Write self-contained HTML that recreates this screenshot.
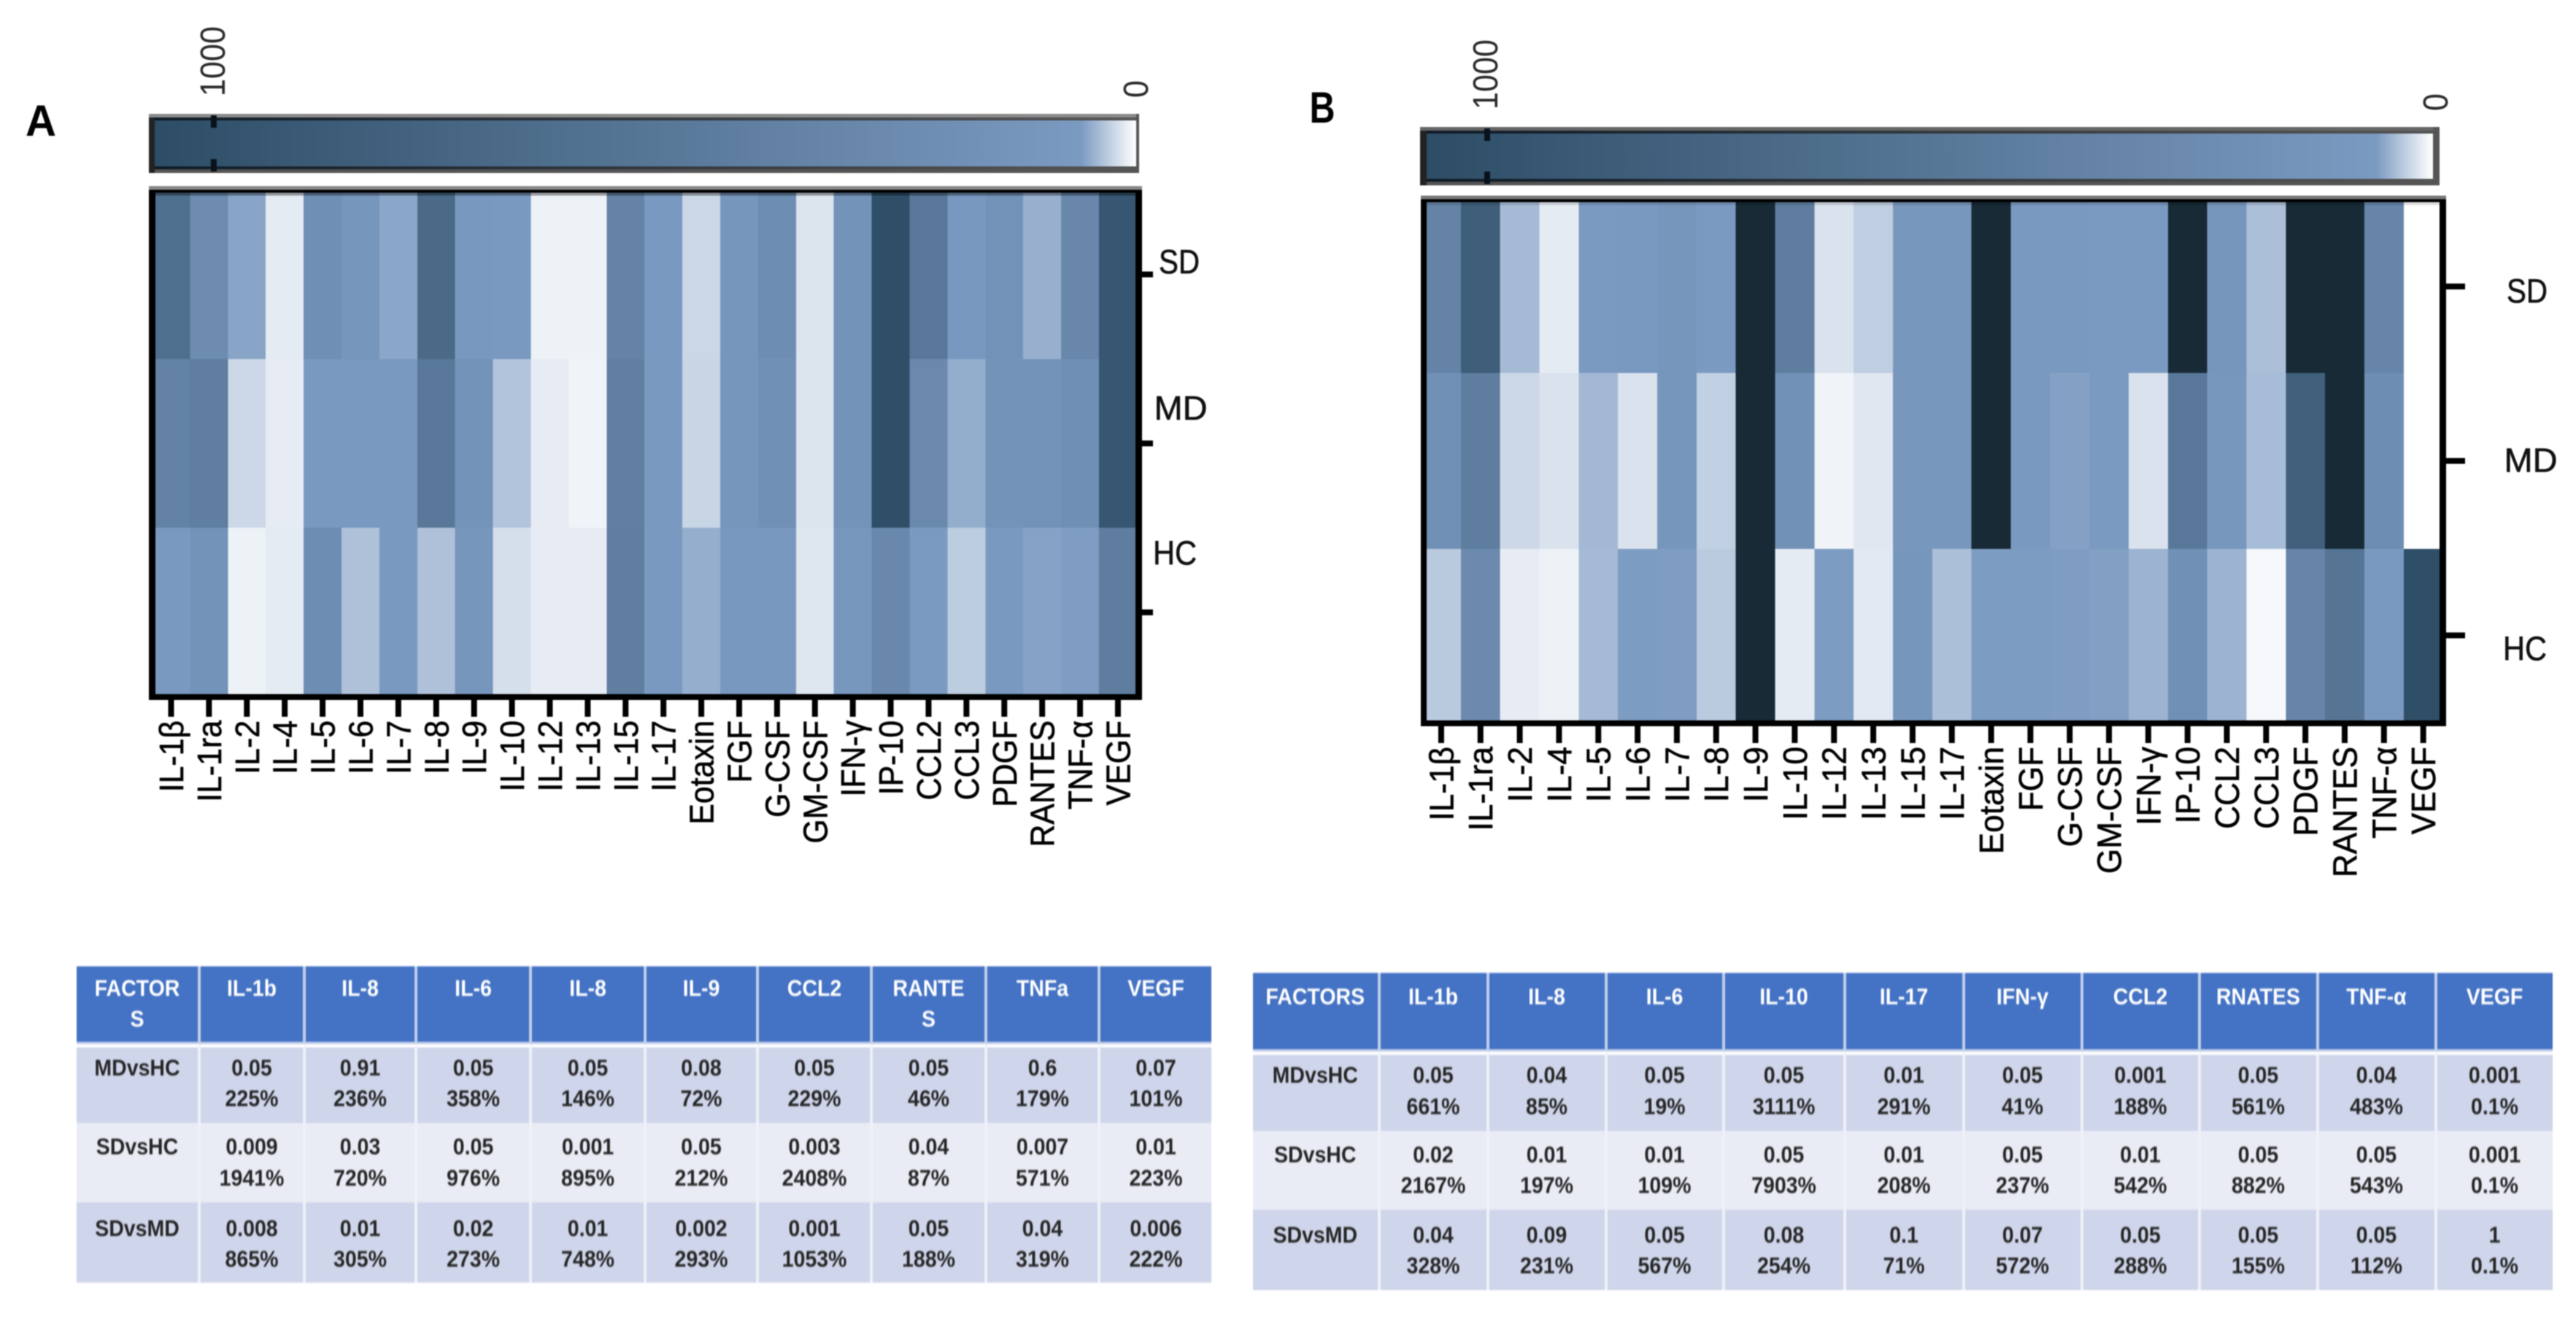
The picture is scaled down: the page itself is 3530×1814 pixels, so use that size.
<!DOCTYPE html>
<html lang="en">
<head>
<meta charset="utf-8">
<title>Cytokine heatmaps and comparison tables</title>
<style>
html,body{margin:0;padding:0;background:#fff;}
body{position:relative;width:3530px;height:1814px;overflow:hidden;font-family:"Liberation Sans",sans-serif;}
#chart{position:absolute;left:0;top:0;filter:blur(.7px);}
table.t{position:absolute;table-layout:fixed;border-collapse:separate;border-spacing:0;transform:scale(1,1.1);transform-origin:0 0;font:bold 28.5px/38.2px "Liberation Sans",sans-serif;text-align:center;color:#262626;filter:blur(.9px);}
table.t td{box-sizing:border-box;padding:0;vertical-align:top;border-right:4px solid #eff1f9;}
table.t td:last-child{border-right:0;}
table.t tr.h td{background:#4472c4;color:#fff;border-bottom:3.6px solid #c5d1ec;border-right-color:#c0cdea;}
table.t tr.r1 td{background:#cfd5ea;border-top:4.5px solid #fff;}
table.t tr.r2 td{background:#e9ebf5;}
table.t tr.r3 td{background:#cfd5ea;}
#table-a{left:105px;top:1324px;width:1555px;}
#table-a tr.h td{height:97.3px;padding-top:9.1px;}
#table-a tr.r1 td{height:97.7px;padding-top:6.4px;}
#table-a tr.r2 td{height:99.5px;padding-top:11.4px;}
#table-a tr.r3 td{height:100px;padding-top:13.6px;}
#table-b{left:1717px;top:1332.5px;width:1780.5px;}
#table-b tr.h td{height:97.7px;padding-top:10.5px;}
#table-b tr.r1 td{height:99.1px;padding-top:7.7px;}
#table-b tr.r2 td{height:98.6px;padding-top:10.9px;}
#table-b tr.r3 td{height:99.5px;padding-top:12.3px;}
</style>
</head>
<body>
<svg id="chart" xmlns="http://www.w3.org/2000/svg" width="3530" height="1814" viewBox="0 0 3530 1814"></svg>

<table class="t" id="table-a">
<colgroup><col style="width:170px"><col style="width:144px"><col style="width:153px"><col style="width:157px"><col style="width:157px"><col style="width:154px"><col style="width:156px"><col style="width:157px"><col style="width:155px"><col style="width:152px"></colgroup>
<tr class="h">
<td>FACTOR<br>S</td>
<td>IL-1b</td>
<td>IL-8</td>
<td>IL-6</td>
<td>IL-8</td>
<td>IL-9</td>
<td>CCL2</td>
<td>RANTE<br>S</td>
<td>TNFa</td>
<td>VEGF</td>
</tr>
<tr class="r1">
<td>MDvsHC</td>
<td>0.05<br>225%</td>
<td>0.91<br>236%</td>
<td>0.05<br>358%</td>
<td>0.05<br>146%</td>
<td>0.08<br>72%</td>
<td>0.05<br>229%</td>
<td>0.05<br>46%</td>
<td>0.6<br>179%</td>
<td>0.07<br>101%</td>
</tr>
<tr class="r2">
<td>SDvsHC</td>
<td>0.009<br>1941%</td>
<td>0.03<br>720%</td>
<td>0.05<br>976%</td>
<td>0.001<br>895%</td>
<td>0.05<br>212%</td>
<td>0.003<br>2408%</td>
<td>0.04<br>87%</td>
<td>0.007<br>571%</td>
<td>0.01<br>223%</td>
</tr>
<tr class="r3">
<td>SDvsMD</td>
<td>0.008<br>865%</td>
<td>0.01<br>305%</td>
<td>0.02<br>273%</td>
<td>0.01<br>748%</td>
<td>0.002<br>293%</td>
<td>0.001<br>1053%</td>
<td>0.05<br>188%</td>
<td>0.04<br>319%</td>
<td>0.006<br>222%</td>
</tr>
</table>

<table class="t" id="table-b">
<colgroup><col style="width:174.5px"><col style="width:149px"><col style="width:162px"><col style="width:161px"><col style="width:166px"><col style="width:163px"><col style="width:162px"><col style="width:161px"><col style="width:162px"><col style="width:162px"><col style="width:158px"></colgroup>
<tr class="h">
<td>FACTORS</td>
<td>IL-1b</td>
<td>IL-8</td>
<td>IL-6</td>
<td>IL-10</td>
<td>IL-17</td>
<td>IFN-γ</td>
<td>CCL2</td>
<td>RNATES</td>
<td>TNF-α</td>
<td>VEGF</td>
</tr>
<tr class="r1">
<td>MDvsHC</td>
<td>0.05<br>661%</td>
<td>0.04<br>85%</td>
<td>0.05<br>19%</td>
<td>0.05<br>3111%</td>
<td>0.01<br>291%</td>
<td>0.05<br>41%</td>
<td>0.001<br>188%</td>
<td>0.05<br>561%</td>
<td>0.04<br>483%</td>
<td>0.001<br>0.1%</td>
</tr>
<tr class="r2">
<td>SDvsHC</td>
<td>0.02<br>2167%</td>
<td>0.01<br>197%</td>
<td>0.01<br>109%</td>
<td>0.05<br>7903%</td>
<td>0.01<br>208%</td>
<td>0.05<br>237%</td>
<td>0.01<br>542%</td>
<td>0.05<br>882%</td>
<td>0.05<br>543%</td>
<td>0.001<br>0.1%</td>
</tr>
<tr class="r3">
<td>SDvsMD</td>
<td>0.04<br>328%</td>
<td>0.09<br>231%</td>
<td>0.05<br>567%</td>
<td>0.08<br>254%</td>
<td>0.1<br>71%</td>
<td>0.07<br>572%</td>
<td>0.05<br>288%</td>
<td>0.05<br>155%</td>
<td>0.05<br>112%</td>
<td>1<br>0.1%</td>
</tr>
</table>

<script>
// ---- data (colour-scale units, 0 to 1000+) ----
const categories = ["IL-1β","IL-1ra","IL-2","IL-4","IL-5","IL-6","IL-7","IL-8","IL-9","IL-10","IL-12","IL-13","IL-15","IL-17","Eotaxin","FGF","G-CSF","GM-CSF","IFN-γ","IP-10","CCL2","CCL3","PDGF","RANTES","TNF-α","VEGF"];
const groups = ["SD","MD","HC"];
const colorbarTicks = [1000, 0];
const panelA_SD = [621,243,54,12,203,112,53,686,86,73,8,8,360,73,24,112,230,16,151,1038,503,86,164,47,308,947];
const panelA_MD = [373,425,23,11,73,73,73,503,151,35,11,7,412,73,25,112,190,16,151,1038,282,49,151,164,203,947];
const panelA_HC = [73,151,8,12,230,37,73,37,112,19,11,11,425,73,48,86,86,15,99,295,60,30,73,55,58,438];
const panelB_SD = [360,842,41,12,60,73,112,60,1600,438,17,29,99,99,1600,73,73,60,60,1600,112,38,1600,1600,334,0];
const panelB_MD = [190,438,23,17,42,17,112,28,1600,177,7,14,99,99,1600,73,56,60,17,503,99,40,816,1600,230,0];
const panelB_HC = [32,269,11,8,41,59,58,31,1600,12,59,13,112,38,59,59,58,57,45,190,45,4,334,542,73,1038];

const NS = "http://www.w3.org/2000/svg";
const svg = document.getElementById("chart");

function el(tag, attrs, parent, name) {
  const e = document.createElementNS(NS, tag);
  for (const k in attrs) e.setAttribute(k, attrs[k]);
  
  
  (parent || svg).appendChild(e);
  return e;
}

// ---- colour scale ----
const V_MID = 60, V_MAX = 1064, V_TOP = 1600;
const C_WHITE = [255,255,255], C_MID = [123,154,193], C_DARK = [45,77,102], C_DEEP = [24,42,54];
function mix(a, b, t) {
  return "rgb(" + a.map((c, i) => Math.round(c + (b[i] - c) * t)).join(",") + ")";
}
function colorOf(v) {
  if (v <= V_MID) return mix(C_WHITE, C_MID, v / V_MID);
  if (v <= V_MAX) return mix(C_MID, C_DARK, (v - V_MID) / (V_MAX - V_MID));
  return mix(C_DARK, C_DEEP, Math.min(1, (v - V_MAX) / (V_TOP - V_MAX)));
}

// ---- defs ----
const defs = el("defs", {}, svg, "chart-definitions");
const grad = el("linearGradient", {id:"bar-gradient", x1:"0", x2:"1", y1:"0", y2:"0"}, defs, "colorbar-gradient");
[V_MAX, 800, 600, 400, 200, V_MID, 45, 30, 15, 0].forEach(function (v) {
  const s = el("stop", {offset: (1 - v / V_MAX).toFixed(4), "stop-color": colorOf(v)}, grad, "gradient-stop");
});
const edgeGrad = el("linearGradient", {id:"edge-gradient", x1:"0", x2:"1", y1:"0", y2:"0"}, defs, "colorbar-edge-gradient");
el("stop", {offset:"0", "stop-color":"#0e1a26"}, edgeGrad, "edge-stop-dark");
el("stop", {offset:"1", "stop-color":"#555555"}, edgeGrad, "edge-stop-light");

function drawPanel(p, rows) {
  const g = el("g", {}, svg, "panel-" + p.id);

  // panel letter
  const letter = el("text", {x:p.letterX, y:p.letterY, "text-anchor":"middle", "font-family":"Liberation Sans, sans-serif", "font-weight":"bold", "font-size":60, textLength:p.letterW, lengthAdjust:"spacingAndGlyphs", fill:"#000"}, g, "panel-letter-" + p.id);
  letter.textContent = p.id.toUpperCase();

  // colour bar
  const bar = el("g", {}, g, "colorbar-" + p.id);
  const b = p.bar;
  el("rect", {x:b.x0, y:b.top, width:b.x1 - b.x0, height:b.bottom - b.top, fill:"url(#bar-gradient)"}, bar, "colorbar-fill");
  el("rect", {x:b.outerL, y:b.outerT, width:b.outerR - b.outerL, height:5, fill:b.topGrey}, bar, "colorbar-top-edge");
  el("rect", {x:b.outerL, y:b.outerT + 5, width:b.outerR - b.outerL, height:b.top - b.outerT - 5, fill:"url(#edge-gradient)"}, bar, "colorbar-top-inner-edge");
  el("rect", {x:b.outerL, y:b.bottom, width:b.outerR - b.outerL, height:4, fill:"url(#edge-gradient)"}, bar, "colorbar-bottom-inner-edge");
  el("rect", {x:b.outerL, y:b.bottom + 4, width:b.outerR - b.outerL, height:b.outerB - b.bottom - 4, fill:"#555"}, bar, "colorbar-bottom-edge");
  el("rect", {x:b.outerL, y:b.outerT + 5, width:b.x0 - b.outerL, height:b.outerB - b.outerT - 5, fill:"#222"}, bar, "colorbar-left-edge");
  el("rect", {x:b.x1, y:b.outerT, width:b.outerR - b.x1, height:b.outerB - b.outerT, fill:"#555"}, bar, "colorbar-right-edge");

  const xBar = v => b.x1 - (b.x1 - b.x0) * v / V_MAX;
  colorbarTicks.forEach(function (v, i) {
    const x = xBar(v);
    if (v > 0) {
      el("rect", {x:x - 4, y:b.outerT + 2, width:8, height:b.tickLen, fill:"#08121c"}, bar, "colorbar-tick-top-" + v);
      el("rect", {x:x - 4, y:b.outerB - b.tickLen - 2, width:8, height:b.tickLen, fill:"#08121c"}, bar, "colorbar-tick-bottom-" + v);
    }
    const cx = v > 0 ? x + b.labelDx : b.zeroX;
    const t = el("text", {transform:"translate(" + (cx + 17) + "," + (v > 0 ? b.labelBottom : b.zeroBottom) + ") rotate(-90)", "font-family":"Liberation Sans, sans-serif", "font-size":48, fill:"#2a2a2a", textLength: v > 0 ? 96 : 24, lengthAdjust:"spacingAndGlyphs"}, bar, "colorbar-label-" + v);
    t.textContent = String(v);
  });

  // heatmap cells through axis functions
  const h = p.heat;
  const xCat = i => h.x0 + i * h.colW;
  const yRow = j => h.y0 + j * h.rowH;
  const cells = el("g", {"shape-rendering":"crispEdges"}, g, "heatmap-" + p.id);
  rows.forEach(function (series, j) {
    series.forEach(function (v, i) {
      el("rect", {x:xCat(i), y:yRow(j), width:h.colW + 0.5, height:h.rowH + 0.5, fill:colorOf(v)}, cells, "cell-" + groups[j].toLowerCase() + "-" + categories[i].toLowerCase());
    });
  });

  // frame
  const f = el("g", {}, g, "heatmap-frame-" + p.id);
  el("rect", {x:h.inL, y:h.inT, width:h.inR - h.inL, height:4, fill:"#000", "fill-opacity":h.shade}, f, "frame-top-shadow");
  el("rect", {x:h.outL, y:h.greyT, width:h.outR - h.outL, height:h.inT - h.greyT, fill:h.greyC}, f, "frame-top-grey");
  el("rect", {x:h.outL, y:h.inT - 4, width:h.outR - h.outL, height:4, fill:"#000"}, f, "frame-top");
  el("rect", {x:h.outL, y:h.inT - 4, width:h.inL - h.outL, height:h.outB - h.inT + 4, fill:"#000"}, f, "frame-left");
  el("rect", {x:h.inR, y:h.inT - 4, width:h.outR - h.inR, height:h.outB - h.inT + 4, fill:"#000"}, f, "frame-right");
  el("rect", {x:h.outL, y:h.inB, width:h.outR - h.outL, height:h.outB - h.inB, fill:"#000"}, f, "frame-bottom");

  // x axis
  const xAxis = el("g", {}, g, "x-axis-" + p.id);
  categories.forEach(function (c, i) {
    const x = xCat(i + 0.5);
    el("rect", {x:x - 4, y:h.outB, width:8, height:23, fill:"#000"}, xAxis, "x-tick-" + c.toLowerCase());
    const t = el("text", {transform:"translate(" + x + "," + h.labelTop + ") rotate(-90) scale(" + h.labelScale + ",1) translate(0,16.5)", "text-anchor":"end", "font-family":"Liberation Sans, sans-serif", "font-size":46, fill:"#000", stroke:"#000", "stroke-width":0.6}, xAxis, "x-label-" + c.toLowerCase());
    t.textContent = c;
  });

  // y axis
  const yAxis = el("g", {}, g, "y-axis-" + p.id);
  groups.forEach(function (name, j) {
    const y = p.tickY0 + j * p.tickStep;
    el("rect", {x:h.outR, y:y - 4, width:h.tickLen, height:8, fill:"#000"}, yAxis, "y-tick-" + name.toLowerCase());
    const t = el("text", {x:p.labelX[j], y:p.labelY[j] + 16.5, "text-anchor":"middle", "font-family":"Liberation Sans, sans-serif", "font-size":46, fill:"#111", stroke:"#111", "stroke-width":0.6, textLength:p.labelW[j], lengthAdjust:"spacingAndGlyphs"}, yAxis, "y-label-" + name.toLowerCase());
    t.textContent = name;
  });
}

drawPanel({
  id:"a", letterX:56, letterY:186, letterW:42,
  bar:{x0:212, x1:1557, top:165, bottom:228, outerL:204, outerR:1561, outerT:156, outerB:237, topGrey:"#8a8a8a", tickLen:17, labelDx:-2, labelBottom:132, zeroX:1556, zeroBottom:134},
  heat:{x0:208.5, colW:51.9, y0:261, rowH:231, inL:213, inR:1556, inT:264, inB:951, outL:204, outR:1565, outB:959, greyT:255, greyC:"#888", shade:0.35, tickLen:15, labelTop:987, labelScale:0.93},
  tickY0:376, tickStep:231.5,
  labelX:[1616,1618,1610], labelY:[358,558.5,757], labelW:[56,73,60]
}, [panelA_SD, panelA_MD, panelA_HC]);

drawPanel({
  id:"b", letterX:1812, letterY:168, letterW:35,
  bar:{x0:1955, x1:3334, top:183, bottom:245, outerL:1946, outerR:3343, outerT:174, outerB:254, topGrey:"#666", tickLen:17, labelDx:-3, labelBottom:150, zeroX:3337, zeroBottom:152},
  heat:{x0:1948, colW:53.83, y0:270, rowH:241, inL:1955, inR:3343, inT:277, inB:987, outL:1947, outR:3352, outB:995, greyT:268, greyC:"#777", shade:0.13, tickLen:26, labelTop:1023, labelScale:0.96},
  tickY0:392.5, tickStep:239,
  labelX:[3463,3468,3460], labelY:[398,630,888], labelW:[56,73,60]
}, [panelB_SD, panelB_MD, panelB_HC]);
</script>
</body>
</html>
